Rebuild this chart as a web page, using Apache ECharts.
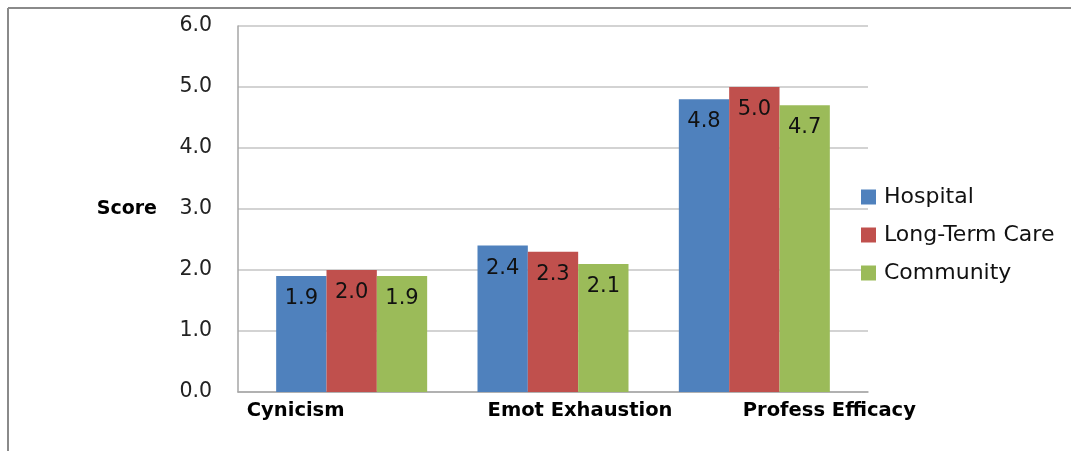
<!DOCTYPE html>
<html><head><meta charset="utf-8">
<script src="https://cdn.jsdelivr.net/npm/echarts@6/dist/echarts.min.js"></script>
<style>html,body{margin:0;padding:0;background:#fff}#c{width:1071px;height:451px}</style>
</head><body><div id="c"></div>
<script>
var categories = ['Cynicism', 'Emot Exhaustion', 'Profess Efficacy'];
var hospital = [1.9, 2.4, 4.8];
var longTermCare = [2.0, 2.3, 5.0];
var community = [1.9, 2.1, 4.7];
var yTicks = [0, 1, 2, 3, 4, 5, 6];
var labelShift = [[0, 112, 0, 0], [0, 0, 0, 54], [0, 0, 0, 150]];

var chart = echarts.init(document.getElementById('c'));
var font = 'DejaVu Sans';
function lbl() {
  return { show: true, position: 'insideTop', distance: 12, color: '#111', fontFamily: font, fontSize: 21,
    formatter: function (p) { return p.value.toFixed(1); } };
}
chart.setOption({
  animation: false,
  graphic: [
    { type: 'line', shape: { x1: 8, y1: 8, x2: 8, y2: 451 }, style: { stroke: '#8a8a8a', lineWidth: 2 } },
    { type: 'line', shape: { x1: 8, y1: 8, x2: 1071, y2: 8 }, style: { stroke: '#8a8a8a', lineWidth: 2 } }
  ],
  legend: {
    orient: 'vertical', left: 861, top: 186, padding: 0, itemWidth: 15, itemHeight: 15, itemGap: 16,
    icon: 'rect', textStyle: { fontFamily: font, fontSize: 22, color: '#111', padding: [0, 0, 0, 3] },
    data: ['Hospital', 'Long-Term Care', 'Community']
  },
  grid: [
    { left: 238, right: 203, top: 26, bottom: 59 },
    { left: 251, right: 216, top: 26, bottom: 59 }
  ],
  xAxis: [
    { type: 'value', gridIndex: 0, min: 0, max: 1, axisLine: { show: true, onZero: false, lineStyle: { color: '#a6a6a6', width: 1.5 } },
      axisTick: { show: false }, axisLabel: { show: false }, splitLine: { show: false } },
    { type: 'category', gridIndex: 1, data: categories.map(function (c, i) {
        return { value: c, textStyle: { padding: labelShift[i] } };
      }),
      axisLine: { show: false }, axisTick: { show: false },
      axisLabel: { interval: 0, hideOverlap: false, fontFamily: font, fontWeight: 'bold', fontSize: 19.5, color: '#000', margin: 9 } }
  ],
  yAxis: [
    { type: 'value', gridIndex: 0, min: yTicks[0], max: yTicks[yTicks.length - 1], interval: 1,
      name: 'Score', nameLocation: 'middle', nameRotate: 0, nameGap: 81,
      nameTextStyle: { fontFamily: font, fontWeight: 'bold', fontSize: 19, color: '#000', align: 'right', verticalAlign: 'middle' },
      axisLine: { show: true, lineStyle: { color: '#a6a6a6', width: 1.5 } }, axisTick: { show: false },
      axisLabel: { fontFamily: font, fontSize: 20.5, color: '#222', margin: 26, formatter: function (v) { return v.toFixed(1); } },
      splitLine: { lineStyle: { color: '#c4c4c4', width: 1.5 } } },
    { type: 'value', gridIndex: 1, min: 0, max: 6, show: false, splitLine: { show: false } }
  ],
  series: [
    { name: 'Hospital', type: 'bar', xAxisIndex: 1, yAxisIndex: 1, data: hospital, itemStyle: { color: '#4F81BD' },
      barGap: '0%', barCategoryGap: '25%', label: lbl() },
    { name: 'Long-Term Care', type: 'bar', xAxisIndex: 1, yAxisIndex: 1, data: longTermCare, itemStyle: { color: '#C0504D' }, label: lbl() },
    { name: 'Community', type: 'bar', xAxisIndex: 1, yAxisIndex: 1, data: community, itemStyle: { color: '#9BBB59' }, label: lbl() }
  ]
});
</script></body></html>
